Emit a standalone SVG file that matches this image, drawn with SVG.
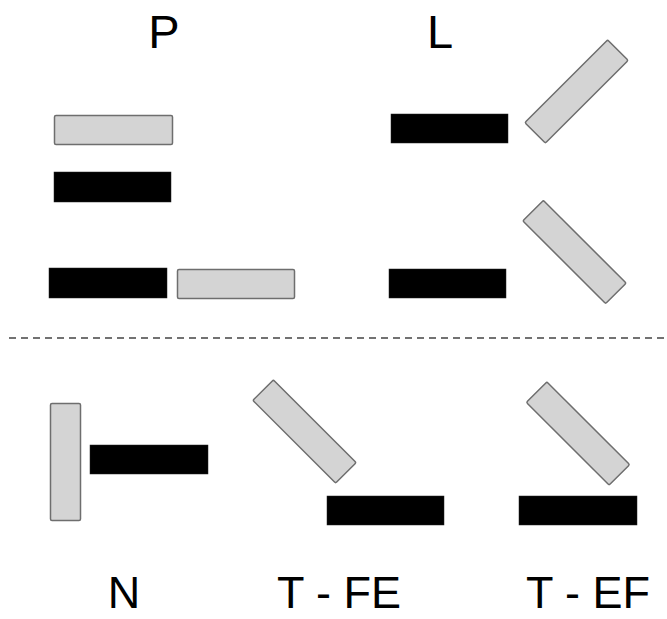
<svg xmlns="http://www.w3.org/2000/svg" width="667" height="619" viewBox="0 0 667 619">
<style>
.g{fill:#d4d4d4;stroke:#6e6e6e;stroke-width:1.5}
.b{fill:#000;stroke:#222;stroke-width:0.5}
.t{font-family:"Liberation Sans",Arial,sans-serif;font-size:47px;fill:#000;text-anchor:middle}
.s{font-size:45px}
</style>
<rect width="667" height="619" fill="#fff"/>
<g id="P">
<text class="t" x="164" y="48">P</text>
<rect class="g" x="54.5" y="115.5" width="118" height="29" rx="1.5"/>
<rect class="b" x="54" y="172" width="117" height="30"/>
<rect class="b" x="49" y="268" width="118" height="30"/>
<rect class="g" x="177.5" y="269.5" width="117" height="29" rx="1.5"/>
</g>
<g id="L">
<text class="t" x="440" y="48">L</text>
<rect class="b" x="391" y="114" width="117" height="29"/>
<rect class="g" x="-58.5" y="-14.5" width="117" height="29" rx="1.5" transform="translate(576.5 91.5) rotate(-45)"/>
<rect class="b" x="389" y="269" width="117" height="29"/>
<rect class="g" x="-58.5" y="-14.5" width="117" height="29" rx="1.5" transform="translate(574.5 252) rotate(45)"/>
</g>
<g id="connectors">
<line x1="9" y1="338" x2="666" y2="338" stroke="#444" stroke-width="1.3" stroke-dasharray="7 5"/>
</g>
<g id="N">
<rect class="g" x="50.5" y="403.5" width="30" height="117" rx="1.5"/>
<rect class="b" x="90" y="445" width="118" height="29"/>
<text class="t s" x="124" y="608">N</text>
</g>
<g id="T-FE">
<rect class="g" x="-58.5" y="-14.5" width="117" height="29" rx="1.5" transform="translate(304.5 431.5) rotate(45)"/>
<rect class="b" x="327" y="496" width="117" height="29"/>
<text class="t s" x="339" y="608">T - FE</text>
</g>
<g id="T-EF">
<rect class="g" x="-58.5" y="-14.5" width="117" height="29" rx="1.5" transform="translate(578 433.5) rotate(45)"/>
<rect class="b" x="519" y="496" width="118" height="29"/>
<text class="t s" x="588" y="608">T - EF</text>
</g>
</svg>
